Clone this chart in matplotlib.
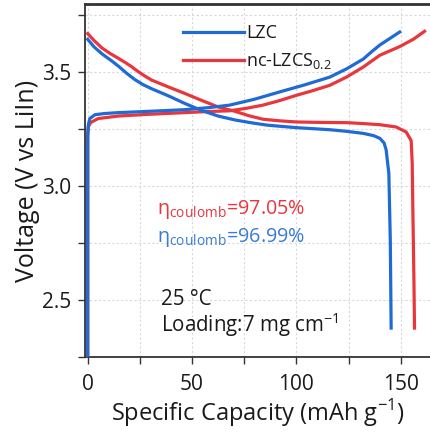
import matplotlib
matplotlib.use("Agg")
import matplotlib.pyplot as plt
from matplotlib.ticker import MultipleLocator
from matplotlib.lines import Line2D

plt.rcParams['font.family'] = ['Open Sans', 'DejaVu Sans']
plt.rcParams['mathtext.fontset'] = 'custom'
plt.rcParams['mathtext.rm'] = 'Open Sans'

# ---- data ----
lzc_chg_cap = [0, 0, 0.3, 1, 3.5, 8, 14.6, 30, 46.6, 58, 68, 80, 92, 104, 116, 124, 132, 136, 140, 145, 149.5]
lzc_chg_v = [2.20, 3.22, 3.27, 3.297, 3.314, 3.319, 3.323, 3.329, 3.336, 3.345, 3.356, 3.382, 3.414, 3.445, 3.479, 3.515, 3.558, 3.59, 3.62, 3.65, 3.677]
lzc_dis_cap = [0, 3, 6.7, 11.5, 15, 18.5, 22.6, 26.5, 30.6, 38.6, 46.6, 54.5, 62.5, 70.5, 78, 86, 100, 116, 124, 132, 137, 140, 142, 143, 144.3, 145, 145.4]
lzc_dis_v = [3.645, 3.612, 3.582, 3.55, 3.525, 3.497, 3.468, 3.446, 3.428, 3.397, 3.363, 3.333, 3.308, 3.291, 3.279, 3.268, 3.257, 3.248, 3.241, 3.232, 3.222, 3.21, 3.19, 3.16, 3.056, 2.76, 2.377]
red_chg_cap = [0, 0, 0.3, 1.5, 5, 14.6, 30, 46.6, 58, 68, 76, 84, 92, 100, 108, 116, 124, 132, 140, 149.5, 156, 161.4]
red_chg_v = [2.20, 3.22, 3.262, 3.28, 3.297, 3.308, 3.316, 3.323, 3.328, 3.331, 3.342, 3.356, 3.376, 3.399, 3.42, 3.443, 3.479, 3.523, 3.575, 3.613, 3.645, 3.68]
red_dis_cap = [0, 3, 6.7, 10.5, 14.6, 18, 21, 24.2, 27.5, 30.6, 38.6, 46.6, 54.5, 62.5, 70.5, 77, 84, 92, 100, 112, 124, 132, 140, 147.8, 152.6, 155, 155.5, 155.8, 156.3, 156.6]
red_dis_v = [3.67, 3.64, 3.608, 3.584, 3.562, 3.543, 3.525, 3.503, 3.483, 3.466, 3.436, 3.407, 3.377, 3.348, 3.329, 3.31, 3.294, 3.287, 3.282, 3.28, 3.279, 3.275, 3.27, 3.26, 3.238, 3.20, 3.10, 2.90, 2.60, 2.377]

series_names = ['LZC', r'nc-LZCS$_{\mathregular{0.2}}$']
eff_red = r'$\mathregular{\eta_{coulomb}}$=97.05%'
eff_blue = r'$\mathregular{\eta_{coulomb}}$=96.99%'

blue = '#1f6ad6'
red = '#e8363c'
txt = '#1a1a1a'

fig = plt.figure(figsize=(4.31, 4.33), dpi=100)
ax = fig.add_axes([85/431, 76/433, 1 - 85/431, (357 - 4)/433])

lw = 2.3
ax.plot(red_chg_cap, red_chg_v, color=red, lw=lw, zorder=3)
ax.plot(red_dis_cap, red_dis_v, color=red, lw=lw, zorder=3)
ax.plot(lzc_chg_cap, lzc_chg_v, color=blue, lw=lw, zorder=4)
ax.plot(lzc_dis_cap, lzc_dis_v, color=blue, lw=lw, zorder=4)

handles = [Line2D([], [], color=blue, lw=lw), Line2D([], [], color=red, lw=lw)]
leg = ax.legend(handles, series_names, loc='upper left',
                bbox_to_anchor=((183 - 85) / 346, 1 - (24 - 4) / 353),
                frameon=False, fontsize=13, handlelength=3.4, handletextpad=0.1,
                labelspacing=0.5, borderaxespad=0, borderpad=0)
for t in leg.get_texts():
    t.set_color(txt)

ax.set_xlim(-1.3, 164.5)
ax.set_ylim(2.25, 3.8)
ax.xaxis.set_major_locator(MultipleLocator(50))
ax.xaxis.set_minor_locator(MultipleLocator(25))
ax.yaxis.set_major_locator(MultipleLocator(0.5))
ax.yaxis.set_minor_locator(MultipleLocator(0.25))
ax.tick_params(which='both', direction='out', length=5, width=1.0, labelsize=15,
               colors='#333333', labelcolor=txt)
ax.tick_params(axis='x', which='both', pad=7)
ax.tick_params(axis='y', which='both', pad=5)
ax.grid(which='both', color='#d8d8d8', linestyle=(0, (2, 2)), linewidth=0.8)
ax.set_axisbelow(True)

for s in ['left', 'top', 'bottom']:
    ax.spines[s].set_color('#333333')
    ax.spines[s].set_linewidth(1.3)
ax.spines['top'].set_linewidth(2.0)
ax.spines['right'].set_visible(False)

ax.set_xlabel('Specific Capacity (mAh g$^{\\mathregular{-1}}$)', fontsize=17, labelpad=2, color=txt)
ax.set_ylabel('Voltage (V vs LiIn)', fontsize=18, labelpad=1, color=txt)

ax.text(33, 2.88, eff_red, color=red, fontsize=14.2, va='baseline')
ax.text(33, 2.755, eff_blue, color='#3a7bd5', fontsize=14.2, va='baseline')
ax.text(35, 2.478, '25 °C', color=txt, fontsize=14.8, va='baseline')
ax.text(35, 2.36, 'Loading:7 mg cm$^{\\mathregular{−1}}$', color=txt, fontsize=14.8, va='baseline')

fig.savefig('out.png', dpi=100)
